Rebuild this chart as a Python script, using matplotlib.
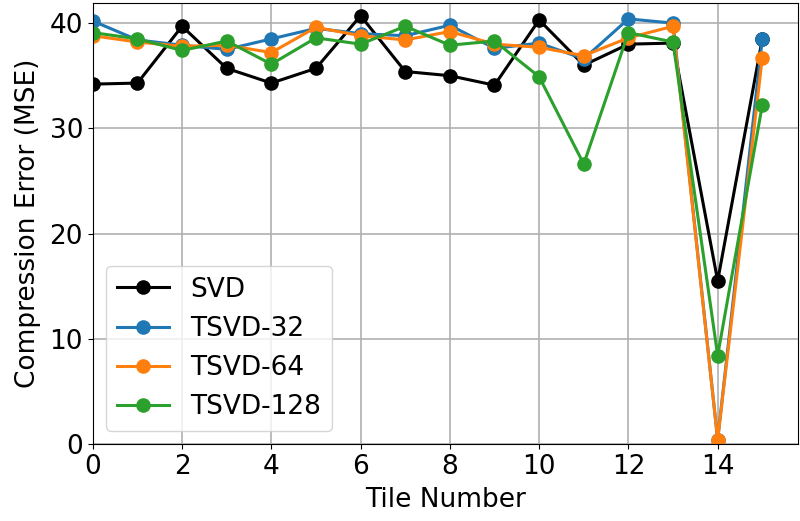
import numpy as np
from matplotlib import pyplot as plt

# Data
tiles = np.arange(16)
svd = [34.2, 34.3, 39.7, 35.7, 34.3, 35.7, 40.7, 35.4, 35.0, 34.1, 40.3, 36.0, 38.0, 38.1, 15.5, 38.5]
tsvd32 = [40.2, 38.4, 37.9, 37.5, 38.5, 39.5, 39.0, 38.8, 39.8, 37.6, 38.1, 36.6, 40.4, 40.0, 0.4, 38.5]
tsvd64 = [38.8, 38.2, 37.8, 37.9, 37.2, 39.6, 38.8, 38.4, 39.2, 38.0, 37.7, 36.9, 38.6, 39.7, 0.4, 36.7]
tsvd128 = [39.1, 38.5, 37.4, 38.3, 36.1, 38.6, 38.0, 39.7, 37.9, 38.3, 34.9, 26.6, 39.1, 38.2, 8.4, 32.2]

plt.rcParams['font.size'] = 19

fig, ax = plt.subplots(figsize=(8, 5.21), dpi=100)
ax.plot(tiles, svd, marker='o', color='black', linewidth=2.2, markersize=9.5, label='SVD')
ax.plot(tiles, tsvd32, marker='o', color='tab:blue', linewidth=2.2, markersize=9.5, label='TSVD-32')
ax.plot(tiles, tsvd64, marker='o', color='tab:orange', linewidth=2.2, markersize=9.5, label='TSVD-64')
ax.plot(tiles, tsvd128, marker='o', color='tab:green', linewidth=2.2, markersize=9.5, label='TSVD-128')

ax.set_xlim(0, 15.8)
ax.set_ylim(0, 41.9)
ax.set_xticks([0, 2, 4, 6, 8, 10, 12, 14])
ax.set_yticks([0, 10, 20, 30, 40])
ax.grid(True, linewidth=1.2, color='#b0b0b0')
ax.set_xlabel("Tile Number", labelpad=5)
ax.set_ylabel("Compression Error (MSE)", labelpad=6)
ax.legend(loc='lower left', fontsize=19)

plt.subplots_adjust(left=0.116, right=0.9975, top=0.994, bottom=0.148)
plt.savefig("out.png")
